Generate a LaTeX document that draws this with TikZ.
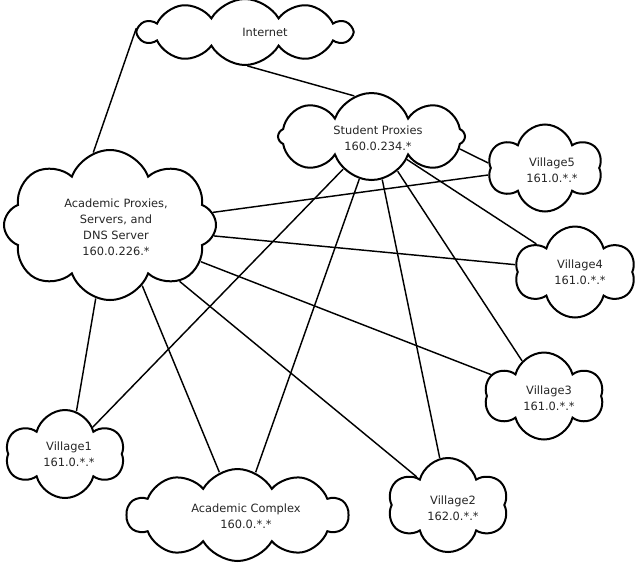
\documentclass[tikz,border=0pt]{standalone}
\usepackage{fontspec}
\setmainfont{DejaVu Sans}
\usetikzlibrary{shapes.symbols}
\begin{document}
\begin{tikzpicture}[x=1pt,y=-1pt,
  cloudbox/.style={cloud, draw=black, line width=2pt, fill=white, cloud ignores aspect,
    inner sep=0pt, cloud puffs=8, cloud puff arc=140},
  village/.style={cloudbox, cloud puffs=6, cloud puff arc=150},
  flatcloud/.style={cloudbox, cloud puffs=10, cloud puff arc=120},
  lbl/.style={align=center, inner sep=0pt, text=black!85, font=\fontsize{11.4}{16}\selectfont},
  conn/.style={line width=1.45pt, black}]
\useasboundingbox (0,0) rectangle (639,566);
% clouds
\node[flatcloud, minimum width=212pt, minimum height=66pt] (inet) at (245,32) {};
\node[cloudbox, minimum width=187pt, minimum height=87pt] (stud) at (371.5,136.5) {};
\node[cloudbox, minimum width=212pt, minimum height=150pt] (acad) at (110,225) {};
\node[village, minimum width=114pt, minimum height=87pt] (v5) at (545,168) {};
\node[village, minimum width=120pt, minimum height=91pt] (v4) at (575,272) {};
\node[village, minimum width=118pt, minimum height=87pt] (v3) at (544,396) {};
\node[village, minimum width=118pt, minimum height=88pt] (v1) at (65,454) {};
\node[flatcloud, minimum width=221pt, minimum height=92pt] (ac) at (237.5,515) {};
\node[village, minimum width=120pt, minimum height=94pt] (v2) at (448,505) {};
% labels
\node[lbl] (tinet) at (265,32) {Internet};
\node[lbl] (tstud) at (378,138.5) {Student Proxies\\160.0.234.*};
\node[lbl] (tacad) at (116,227.5) {Academic Proxies,\\Servers, and\\DNS Server\\160.0.226.*};
\node[lbl] (tv5) at (552,170) {Village5\\161.0.*.*};
\node[lbl] (tv4) at (580,272) {Village4\\161.0.*.*};
\node[lbl] (tv3) at (549,398) {Village3\\161.0.*.*};
\node[lbl] (tv1) at (69,454) {Village1\\161.0.*.*};
\node[lbl] (tac) at (246,516) {Academic Complex\\160.0.*.*};
\node[lbl] (tv2) at (453,508) {Village2\\162.0.*.*};
% connectors
\draw[conn] (inet.178) -- (acad.103);
\draw[conn] (inet.274) -- (stud.113);
\draw[conn] (stud.-8) -- (v5.175);
\draw[conn] (stud.-33) -- (v4.144);
\draw[conn] (stud.-53) -- (v3.122);
\draw[conn] (stud.-76) -- (v2.100);
\draw[conn] (stud.-106) -- (ac.67);
\draw[conn] (stud.-131) -- (v1.44);
\draw[conn] (acad.7) -- (v5.187);
\draw[conn] (acad.-6) -- (v4.173);
\draw[conn] (acad.-22) -- (v3.158);
\draw[conn] (acad.-39) -- (v2.138);
\draw[conn] (acad.-62) -- (ac.113);
\draw[conn] (acad.-101) -- (v1.75);
\end{tikzpicture}
\end{document}
